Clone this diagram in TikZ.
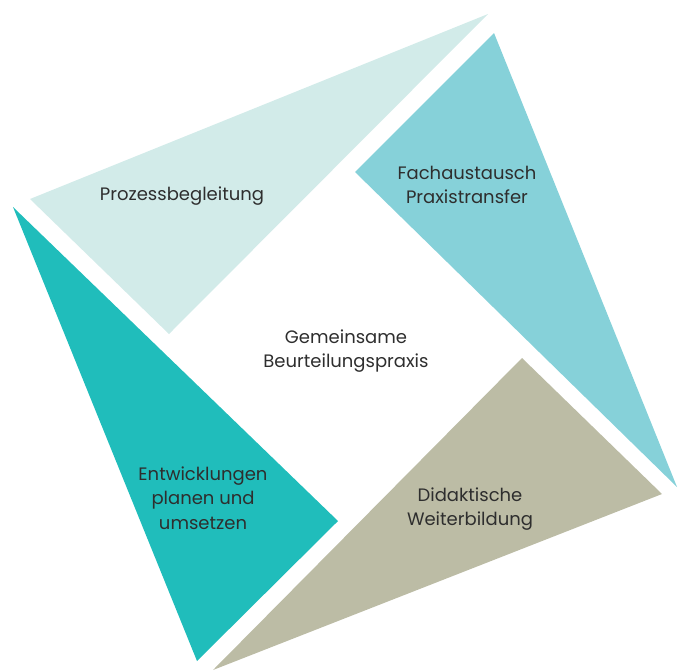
\documentclass[tikz,border=0pt]{standalone}
\usepackage{fontspec}
\setmainfont{Poppins}
\usepackage{tikz}
\definecolor{paleteal}{HTML}{D2EBE9}
\definecolor{skyteal}{HTML}{86D1D9}
\definecolor{khaki}{HTML}{BCBCA5}
\definecolor{deepteal}{HTML}{20BDBB}
\definecolor{textgray}{HTML}{2E2E2E}
\tikzset{
    label text/.style={text=textgray, font=\fontsize{18}{24.5}\selectfont, align=center, inner sep=0pt}}

\begin{document}
\begin{tikzpicture}[x=1pt, y=-1pt]

            \useasboundingbox (0,0) rectangle (684,670);

            \fill[paleteal] (30,199) -- (488,14) -- (169,334) -- cycle;
            \fill[skyteal] (494,33) -- (355,172) -- (677,487) -- cycle;
            \fill[khaki] (522,358) -- (662,494) -- (213,670) -- cycle;
            \fill[deepteal] (13,207) -- (338,521) -- (197,661) -- cycle;

            \node[label text] (P) at (182,196) {Prozessbegleitung};
            \node[label text] (F) at (467,185) {Fachaustausch\\Praxistransfer};
            \node[label text] (G) at (346,351) {Gemeinsame\\Beurteilungspraxis};
            \node[label text] (E) at (203,498) {Entwicklungen\\planen und\\umsetzen};
            \node[label text] (D) at (470,509) {Didaktische\\Weiterbildung};

        \end{tikzpicture}
\end{document}
